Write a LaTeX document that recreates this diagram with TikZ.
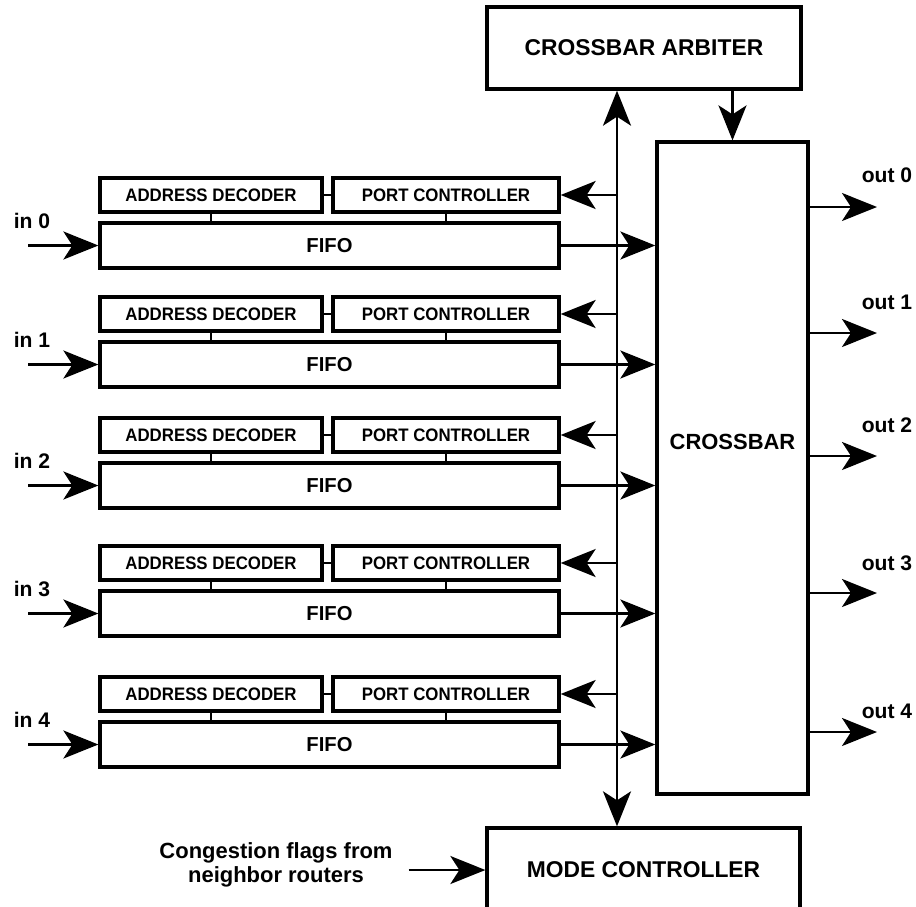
\documentclass[tikz,border=0pt]{standalone}
\usepackage{fontspec}
\setmainfont{Liberation Sans}
\newfontfamily\narrowfont[FakeStretch=0.93]{Liberation Sans}
\usetikzlibrary{arrows.meta}

\begin{document}
\begin{tikzpicture}[x=0.02cm, y=-0.02cm,
		>={Stealth[length=0.7cm,width=0.56cm,inset=0.18cm]},
		main node/.style={draw,line width=1.9pt,inner sep=0pt,font=\bfseries\fontsize{13}{15}\selectfont},
		small node/.style={main node,minimum height=0.68cm,font=\narrowfont\bfseries\fontsize{10.3}{12}\selectfont},
		fifo node/.style={main node,minimum width=9.18cm,minimum height=0.9cm,font=\bfseries\fontsize{11.5}{13}\selectfont},
		port label/.style={font=\bfseries\fontsize{12}{14}\selectfont},
		link/.style={line width=1.4pt}]
	
	\useasboundingbox (0,0) rectangle (916,906);
	\clip (0,0) rectangle (916,906);
	
	\node[main node,minimum width=6.28cm,minimum height=1.64cm] (arb) at (644,48) {CROSSBAR ARBITER};
	\node[main node,minimum width=3.02cm,minimum height=13.04cm,
		label={[font=\bfseries\fontsize{12.5}{14}\selectfont,yshift=0.52cm]center:CROSSBAR}] (xbar) at (732.5,468) {};
	\node[main node,minimum width=6.26cm,minimum height=1.68cm] (mode) at (643.5,870) {MODE CONTROLLER};
	\node[align=center,font=\bfseries\fontsize{12.5}{13.6}\selectfont] (flags) at (276,865) {Congestion flags from\\neighbor routers};
	
	\coordinate (bus) at (617,0);
	
	% input ports
	\foreach \i/\y in {0/178,1/297,2/418,3/546,4/677}{
		\node[small node,minimum width=4.44cm] (ad\i) at (211,\y+17) {ADDRESS DECODER};
		\node[small node,minimum width=4.52cm] (pc\i) at (446,\y+17) {PORT CONTROLLER};
		\node[fifo node] (fifo\i) at (329.5,\y+67.5) {FIFO};
		\node[port label] (lin\i) at (32,\y+43) {in \i};
		\coordinate (in\i) at (28,\y+67.5);
		
		\path[link]
		(ad\i) edge (pc\i)
		(ad\i.south) edge (ad\i.south |- fifo\i.north)
		(pc\i.south) edge (pc\i.south |- fifo\i.north);
		
		\path[link,->]
		(in\i) edge (fifo\i.west)
		(bus |- pc\i.east) edge (pc\i.east)
		(fifo\i.east) edge (fifo\i.east -| xbar.west);
	}
	
	% output ports
	\foreach \j/\ya/\yl in {0/207/175,1/333/302,2/456/425,3/593/563,4/732/711}{
		\coordinate (out\j) at (877,\ya);
		\node[port label] (lout\j) at (887,\yl) {out \j};
		\path[link,->] (xbar.east |- out\j) edge (out\j);
	}
	
	\path[link,<->] (arb.south -| bus) edge (mode.north -| bus);
	\path[link,->]
	(xbar.north |- arb.south) edge (xbar.north)
	([xshift=0.2cm]flags.east |- mode.west) edge (mode.west);
	
\end{tikzpicture}
\end{document}
